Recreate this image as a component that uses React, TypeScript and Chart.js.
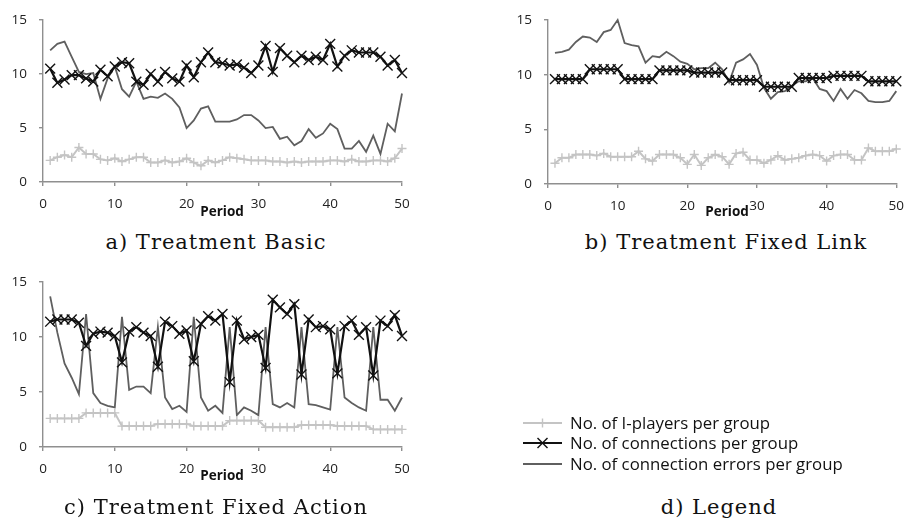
import React, { useEffect, useRef } from "react";
import { Chart, registerables } from "chart.js";
Chart.register(...registerables);

const periods = [1,2,3,4,5,6,7,8,9,10,11,12,13,14,15,16,17,18,19,20,21,22,23,24,25,26,27,28,29,30,31,32,33,34,35,36,37,38,39,40,41,42,43,44,45,46,47,48,49,50];
const xTicks = [0, 10, 20, 30, 40, 50];
const yTicks = [0, 5, 10, 15];

const seriesNames = ["No. of I-players per group", "No. of connections per group", "No. of connection errors per group"];

const basicIPlayers = [2.0,2.3,2.5,2.3,3.2,2.6,2.6,2.1,2.0,2.2, 1.9,2.1,2.3,2.3,1.8,1.8,2.0,1.8,1.9,2.2, 1.8,1.5,2.0,1.8,2.0,2.3,2.2,2.1,2.0,2.0, 2.0,1.9,1.9,1.8,1.9,1.8,1.9,1.9,1.9,2.0, 2.0,1.9,2.1,1.9,1.9,2.0,2.0,1.9,2.2,3.1];
const basicConnections = [10.5,9.2,9.5,9.9,9.9,9.6,9.3,10.4,9.8,10.7, 11.1,11.0,9.3,9.0,10.0,9.3,10.2,9.6,9.3,10.8, 9.7,11.1,12.0,11.1,11.0,10.8,10.9,10.6,10.1,10.8, 12.6,10.2,12.4,11.7,11.1,11.7,11.3,11.6,11.3,12.8, 10.7,11.7,12.2,12.0,12.0,12.0,11.6,10.8,11.3,10.1];
const basicErrors = [12.2,12.8,13.0,11.6,10.2,10.0,10.1,7.7,9.6,10.7, 8.6,7.9,9.3,7.7,7.9,7.8,8.2,7.7,6.9,5.0, 5.7,6.8,7.0,5.6,5.6,5.6,5.8,6.2,6.2,5.7, 5.0,5.1,4.0,4.2,3.4,3.8,4.9,4.1,4.5,5.4, 4.9,3.1,3.1,3.8,2.8,4.3,2.6,5.4,4.7,8.2];

const linkIPlayers = [1.9,2.4,2.4,2.7,2.7,2.7,2.6,2.8,2.5,2.5, 2.5,2.5,3.0,2.3,2.1,2.7,2.7,2.7,2.4,1.8, 2.7,1.7,2.4,2.7,2.5,1.8,2.8,2.9,2.2,2.2, 1.9,2.2,2.6,2.2,2.3,2.4,2.6,2.7,2.6,2.1, 2.6,2.7,2.7,2.2,2.2,3.3,3.0,3.0,3.0,3.2];
const linkConnections = [9.6,9.6,9.6,9.6,9.6,10.5,10.5,10.5,10.5,10.5, 9.6,9.6,9.6,9.6,9.6,10.4,10.4,10.4,10.4,10.4, 10.2,10.2,10.2,10.2,10.2,9.5,9.5,9.5,9.5,9.5, 8.9,8.9,8.9,8.9,8.9,9.7,9.7,9.7,9.7,9.7, 9.9,9.9,9.9,9.9,9.9,9.4,9.4,9.4,9.4,9.4];
const linkErrors = [12.0,12.1,12.3,13.0,13.5,13.4,13.0,13.9,14.1,15.0, 12.9,12.7,12.6,11.1,11.7,11.6,12.1,11.7,11.2,11.0, 10.5,10.6,10.6,11.1,10.5,9.3,11.1,11.4,11.9,10.9, 8.8,7.8,8.4,8.5,9.0,9.4,9.4,9.7,8.7,8.5, 7.6,8.7,7.8,8.6,8.3,7.6,7.5,7.5,7.6,8.5];

const actionIPlayers = [2.6,2.6,2.6,2.6,2.6,3.1,3.1,3.1,3.1,3.1, 1.9,1.9,1.9,1.9,1.9,2.1,2.1,2.1,2.1,2.1, 1.9,1.9,1.9,1.9,1.9,2.4,2.4,2.4,2.4,2.4, 1.8,1.8,1.8,1.8,1.8,2.0,2.0,2.0,2.0,2.0, 1.9,1.9,1.9,1.9,1.9,1.6,1.6,1.6,1.6,1.6];
const actionConnections = [11.4,11.6,11.6,11.6,11.3,9.2,10.3,10.5,10.4,10.1, 7.7,10.5,10.9,10.4,10.1,7.3,11.4,11.0,10.3,10.6, 7.8,11.2,11.9,11.5,12.1,5.9,11.5,9.8,10.0,10.2, 7.2,13.4,12.7,12.1,13.0,6.6,11.6,10.9,11.0,10.7, 6.7,11.0,11.5,10.2,10.9,6.5,11.5,11.0,12.0,10.1];
const actionErrors = [13.7,10.4,7.6,6.3,4.8,12.1,4.9,4.0,3.75,3.6, 11.85,5.2,5.5,5.5,4.9,10.9,4.5,3.45,3.75,3.2, 11.85,4.5,3.3,3.75,3.1,10.9,2.9,3.6,3.3,2.9, 10.9,3.9,3.6,4.0,3.6,10.9,3.9,3.8,3.6,3.4, 10.9,4.5,4.0,3.6,3.3,10.9,4.3,4.3,3.3,4.5];

const COL_I = "#c4c4c4";
const COL_C = "#111111";
const COL_E = "#5f5f5f";
const AXIS = "#8f8f8f";
const SANS = "'Open Sans', 'DejaVu Sans', sans-serif";
const SERIF = "'DejaVu Serif', serif";

type Box = { left: number; top: number; width: number; height: number; areaL: number; areaR: number; areaT: number; areaB: number };

function pts(vals: number[]) {
  return vals.map((v, i) => ({ x: periods[i], y: v }));
}

function Panel({ box, iPlayers, connections, errors }: { box: Box; iPlayers: number[]; connections: number[]; errors: number[] }) {
  const ref = useRef<HTMLCanvasElement | null>(null);
  useEffect(() => {
    if (!ref.current) return;
    const yw = box.areaL - box.left;
    const xh = box.top + box.height - box.areaB;
    const chart = new Chart(ref.current, {
      type: "line",
      data: {
        datasets: [
          {
            label: seriesNames[1],
            data: pts(connections),
            borderColor: COL_C,
            borderWidth: 2.2,
            pointStyle: "crossRot",
            pointRadius: 7,
            pointBorderColor: COL_C,
            pointBorderWidth: 1.4,
            pointBackgroundColor: COL_C,
            tension: 0,
            clip: false,
          } as any,
          {
            label: seriesNames[0],
            data: pts(iPlayers),
            borderColor: COL_I,
            borderWidth: 2,
            pointStyle: "cross",
            pointRadius: 4.5,
            pointBorderColor: COL_I,
            pointBorderWidth: 1.4,
            tension: 0,
            clip: false,
          } as any,
          {
            label: seriesNames[2],
            data: pts(errors),
            borderColor: COL_E,
            borderWidth: 1.8,
            pointRadius: 0,
            tension: 0,
            clip: false,
          } as any,
        ],
      },
      options: {
        animation: false,
        responsive: false,
        maintainAspectRatio: false,
        events: [],
        layout: {
          padding: {
            left: 0,
            top: box.areaT - box.top,
            right: box.left + box.width - box.areaR,
            bottom: 0,
          },
        },
        plugins: { legend: { display: false }, tooltip: { enabled: false } },
        scales: {
          x: {
            type: "linear",
            min: xTicks[0],
            max: xTicks[xTicks.length - 1],
            afterBuildTicks: (s: any) => {
              s.ticks = xTicks.map((v) => ({ value: v }));
            },
            ticks: { color: "#222", font: { family: SANS, size: 13.5 }, padding: 10, maxRotation: 0 },
            grid: { drawOnChartArea: false, drawTicks: true, tickLength: 4, color: AXIS, lineWidth: 1.4 },
            border: { color: AXIS, width: 1.4 },
            afterFit: (s: any) => {
              s.height = xh;
            },
          },
          y: {
            min: yTicks[0],
            max: yTicks[yTicks.length - 1],
            afterBuildTicks: (s: any) => {
              s.ticks = yTicks.map((v) => ({ value: v }));
            },
            ticks: { color: "#222", font: { family: SANS, size: 13.5 }, padding: 12 },
            grid: { drawOnChartArea: false, drawTicks: true, tickLength: 4, color: AXIS, lineWidth: 1.4 },
            border: { color: AXIS, width: 1.4 },
            afterFit: (s: any) => {
              s.width = yw;
            },
          },
        },
      } as any,
    });
    return () => chart.destroy();
  }, []);
  return (
    <canvas
      ref={ref}
      width={box.width}
      height={box.height}
      style={{ position: "absolute", left: box.left, top: box.top, width: box.width, height: box.height }}
    />
  );
}

function Text({ text, cx, cy, size, family, bold, w = 400, ls = 0 }: { text: string; cx: number; cy: number; size: number; family: string; bold?: boolean; w?: number; ls?: number }) {
  const h = Math.round(size * 1.4);
  return (
    <div
      style={{
        position: "absolute",
        left: cx - w / 2,
        top: cy - h / 2,
        width: w,
        height: h,
        lineHeight: h + "px",
        textAlign: "center",
        fontFamily: family,
        fontSize: size,
        fontWeight: bold ? 700 : 400,
        letterSpacing: ls,
        color: "#111",
        whiteSpace: "nowrap",
      }}
    >
      {text}
    </div>
  );
}

function LegendRow({ y, kind, label }: { y: number; kind: number; label: string }) {
  const x0 = 523, x1 = 562, xm = (x0 + x1) / 2;
  const color = kind === 0 ? COL_I : kind === 1 ? COL_C : COL_E;
  return (
    <>
      <svg style={{ position: "absolute", left: 0, top: 0 }} width={914} height={520}>
        <line x1={x0} y1={y} x2={x1} y2={y} stroke={color} strokeWidth={kind === 1 ? 2.2 : 1.8} />
        {kind === 0 && (
          <>
            <line x1={xm - 4.5} y1={y} x2={xm + 4.5} y2={y} stroke={color} strokeWidth={1.4} />
            <line x1={xm} y1={y - 4.5} x2={xm} y2={y + 4.5} stroke={color} strokeWidth={1.4} />
          </>
        )}
        {kind === 1 && (
          <>
            <line x1={xm - 5} y1={y - 5} x2={xm + 5} y2={y + 5} stroke={color} strokeWidth={1.4} />
            <line x1={xm - 5} y1={y + 5} x2={xm + 5} y2={y - 5} stroke={color} strokeWidth={1.4} />
          </>
        )}
      </svg>
      <div
        style={{
          position: "absolute",
          left: 570,
          top: y - 12,
          height: 24,
          lineHeight: "24px",
          fontFamily: SANS,
          fontSize: 16.8,
          color: "#111",
          whiteSpace: "nowrap",
        }}
      >
        {label}
      </div>
    </>
  );
}

const boxA: Box = { left: 0, top: 0, width: 430, height: 225, areaL: 43, areaR: 402, areaT: 15, areaB: 182 };
const boxB: Box = { left: 505, top: 0, width: 409, height: 225, areaL: 548, areaR: 906, areaT: 16, areaB: 184 };
const boxC: Box = { left: 0, top: 262, width: 430, height: 228, areaL: 43, areaR: 402, areaT: 279, areaB: 447 };

export default function App() {
  return (
    <div style={{ position: "absolute", left: 0, top: 0, width: 914, height: 520, background: "#fff", overflow: "hidden" }}>
      <Panel box={boxA} iPlayers={basicIPlayers} connections={basicConnections} errors={basicErrors} />
      <Panel box={boxB} iPlayers={linkIPlayers} connections={linkConnections} errors={linkErrors} />
      <Panel box={boxC} iPlayers={actionIPlayers} connections={actionConnections} errors={actionErrors} />
      <Text text="Period" cx={222} cy={211} size={13.5} family={SANS} bold w={100} />
      <Text text="Period" cx={727} cy={211} size={13.5} family={SANS} bold w={100} />
      <Text text="Period" cx={222} cy={475} size={13.5} family={SANS} bold w={100} />
      <Text text="a) Treatment Basic" cx={216} cy={242} size={21} family={SERIF} ls={1} />
      <Text text="b) Treatment Fixed Link" cx={726} cy={242} size={21} family={SERIF} ls={1} />
      <Text text="c) Treatment Fixed Action" cx={216} cy={507} size={21} family={SERIF} ls={1} />
      <Text text="d) Legend" cx={719} cy={507} size={21} family={SERIF} ls={1} />
      <LegendRow y={423} kind={0} label={seriesNames[0]} />
      <LegendRow y={443} kind={1} label={seriesNames[1]} />
      <LegendRow y={464} kind={2} label={seriesNames[2]} />
    </div>
  );
}
